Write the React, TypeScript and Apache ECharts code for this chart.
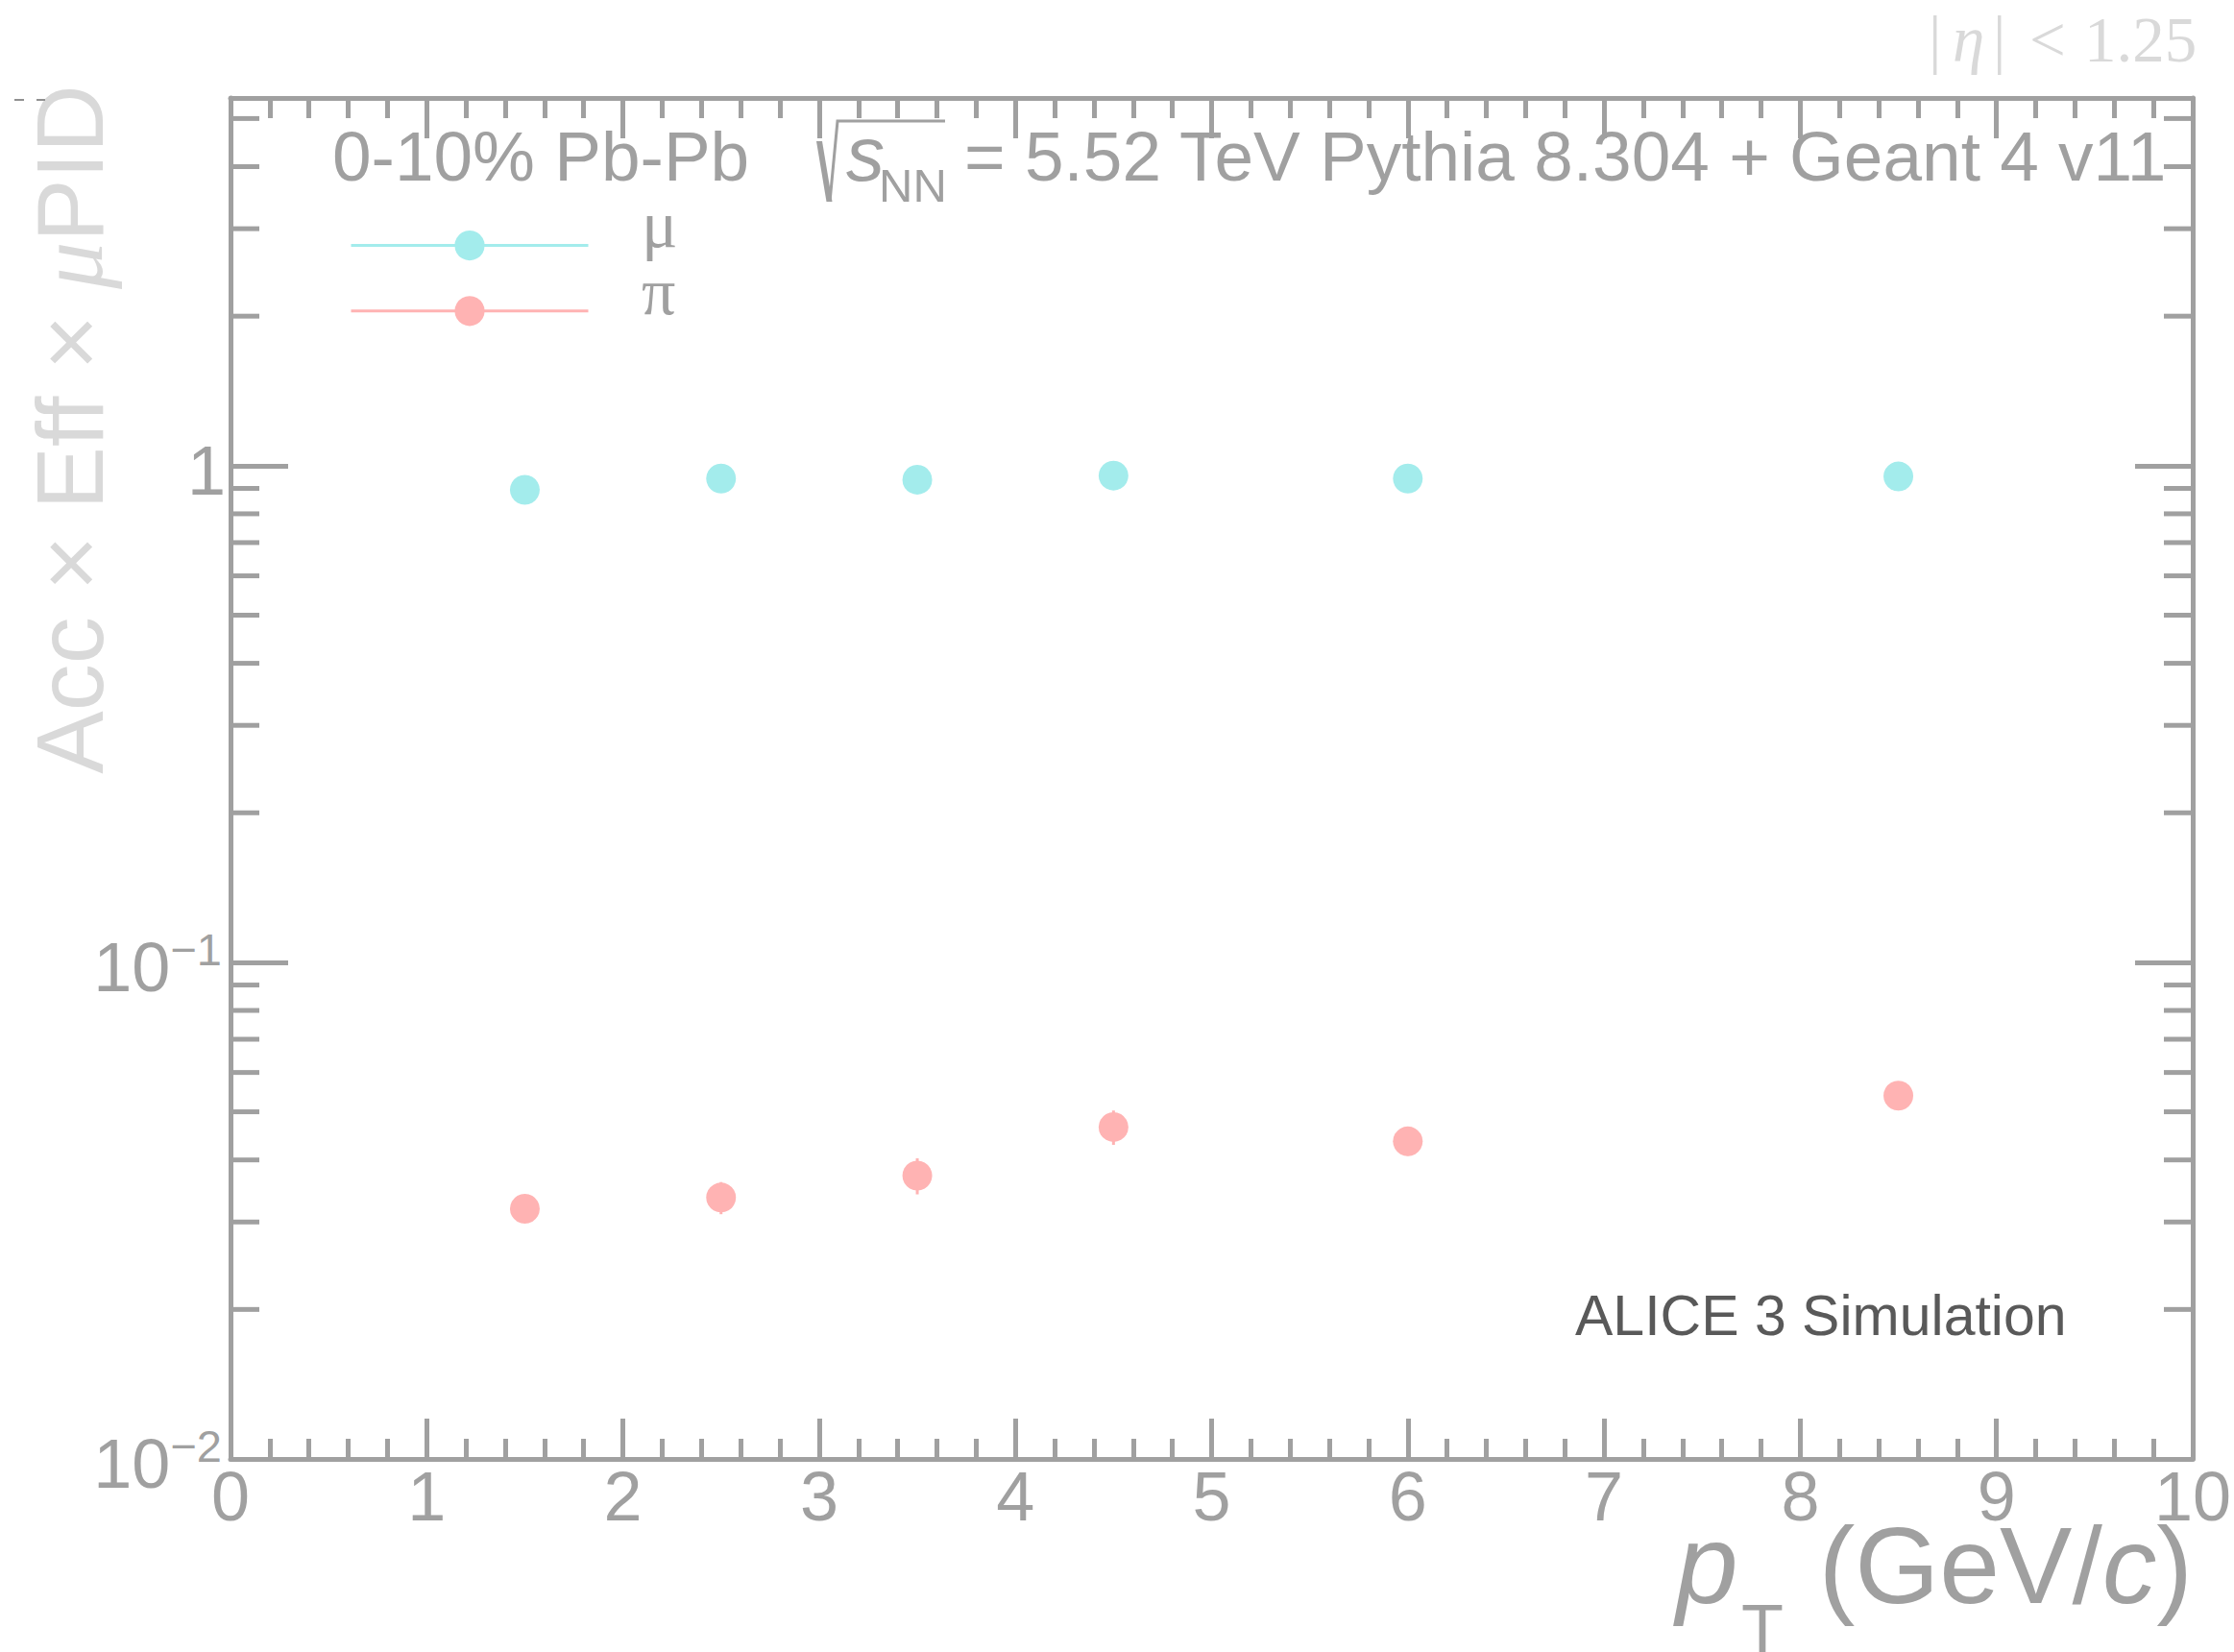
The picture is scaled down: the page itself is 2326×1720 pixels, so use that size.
import React, { useEffect, useRef } from 'react';
import * as echarts from 'echarts';

// ---- data ----
const pT = [1.5, 2.5, 3.5, 4.5, 6, 8.5];
const muEff = [0.894, 0.942, 0.937, 0.955, 0.942, 0.951];
const muErr = [0.010, 0.009, 0.009, 0.009, 0.009, 0.010];
const piEff = [0.0319, 0.0336, 0.0372, 0.0466, 0.0436, 0.0539];
const piErr = [0.0020, 0.0025, 0.0031, 0.0037, 0.0028, 0.0035];
const seriesNames = ['μ', 'π'];

const yMajorTicks = [0.01, 0.1, 1];
const yTickLabels = [['10', '−2'], ['10', '−1'], ['1', '']];
const yMinorTicks = [0.02, 0.03, 0.04, 0.05, 0.06, 0.07, 0.08, 0.09, 0.2, 0.3, 0.4, 0.5, 0.6, 0.7, 0.8, 0.9, 2, 3, 4, 5];

const headerLeft = '0-10% Pb-Pb';
const headerRight = '= 5.52 TeV Pythia 8.304 + Geant 4 v11';
const simLabel = 'ALICE 3 Simulation';

// ---- styles ----
const AX = '#a0a0a0';
const LIGHT = '#d9d9d9';
const LW = 5;
const FONT = 'Liberation Sans';
const SERIF = 'Liberation Serif';
const MU_COLOR = '#a3ecec';
const PI_COLOR = '#ffb3b3';

function yLabelFormatter(v: number): string {
  const i = yMajorTicks.findIndex((t) => Math.abs(Math.log10(v) - Math.log10(t)) < 1e-6);
  if (i < 0) return '';
  const [b, s] = yTickLabels[i];
  return s ? `{b|${b}}{s|${s}}` : `{b|${b}}`;
}

const errRender = (color: string) => (params: any, api: any) => {
  const x = api.value(0);
  const lo = api.coord([x, api.value(1)]);
  const hi = api.coord([x, api.value(2)]);
  return {
    type: 'line',
    shape: { x1: lo[0], y1: lo[1], x2: hi[0], y2: hi[1] },
    style: { stroke: color, lineWidth: 3 },
  };
};

const minorTickRender = (params: any, api: any) => {
  const y = api.coord([0, api.value(1)])[1];
  const cs = params.coordSys;
  const L = 30;
  return {
    type: 'group',
    children: [
      { type: 'line', shape: { x1: cs.x, y1: y, x2: cs.x + L, y2: y }, style: { stroke: AX, lineWidth: LW } },
      { type: 'line', shape: { x1: cs.x + cs.width - L, y1: y, x2: cs.x + cs.width, y2: y }, style: { stroke: AX, lineWidth: LW } },
    ],
  };
};

function buildOption(): any {
  const xAxisBase = {
    type: 'value',
    min: 0,
    max: 10,
    interval: 1,
    axisLine: { show: true, onZero: false, lineStyle: { color: AX, width: LW } },
    axisTick: { show: true, inside: true, length: 42, lineStyle: { color: AX, width: LW } },
    minorTick: { show: true, splitNumber: 5, length: 21, lineStyle: { color: AX, width: LW } },
    splitLine: { show: false },
    minorSplitLine: { show: false },
  };
  const yAxisBase = {
    type: 'log',
    logBase: 10,
    min: 0.01,
    max: 5.5,
    axisLine: { show: true, onZero: false, lineStyle: { color: AX, width: LW } },
    axisTick: { show: true, inside: true, length: 60, lineStyle: { color: AX, width: LW } },
    minorTick: { show: false },
    splitLine: { show: false },
  };

  const txt = (text: string, x: number, y: number, size: number, color: string, extra: any = {}) => ({
    type: 'text',
    x,
    y,
    silent: true,
    style: {
      text,
      fill: color,
      fontSize: size,
      fontFamily: FONT,
      align: 'left',
      verticalAlign: 'middle',
      ...extra,
    },
  });

  return {
    animation: false,
    backgroundColor: '#ffffff',
    textStyle: { fontFamily: FONT },
    grid: { left: 240, top: 102, right: 43, bottom: 201, containLabel: false, outerBoundsMode: 'none' },
    xAxis: [
      {
        ...xAxisBase,
        position: 'bottom',
        axisLabel: { show: true, margin: 3, fontSize: 72, fontFamily: FONT, color: AX },
      },
      { ...xAxisBase, position: 'top', axisLabel: { show: false } },
    ],
    yAxis: [
      {
        ...yAxisBase,
        position: 'left',
        axisLabel: {
          show: true,
          margin: 5,
          formatter: yLabelFormatter,
          rich: {
            b: { fontSize: 72, fontFamily: FONT, color: AX, padding: [10, 0, 0, 0] },
            s: { fontSize: 47, fontFamily: FONT, color: AX, verticalAlign: 'top', padding: [4, 4, 0, 0] },
          },
        },
      },
      { ...yAxisBase, position: 'right', axisLabel: { show: false } },
    ],
    legend: {
      data: seriesNames,
      orient: 'vertical',
      left: 364,
      top: 240,
      padding: 0,
      itemWidth: 247,
      itemHeight: 39,
      itemGap: 37,
      selectedMode: false,
      formatter: () => '',
      lineStyle: { width: 3, opacity: 1 },
      textStyle: { fontSize: 10, lineHeight: 10 },
    },
    series: [
      {
        type: 'custom',
        name: 'yMinorTicks',
        renderItem: minorTickRender,
        data: yMinorTicks.map((v) => [0, v]),
        encode: { x: 0, y: 1 },
        silent: true,
        clip: false,
        z: 5,
      },
      {
        type: 'custom',
        name: 'μ errors',
        renderItem: errRender(MU_COLOR),
        data: pT.map((x, i) => [x, muEff[i] - muErr[i], muEff[i] + muErr[i]]),
        encode: { x: 0, y: [1, 2] },
        silent: true,
        z: 2,
      },
      {
        type: 'custom',
        name: 'π errors',
        renderItem: errRender(PI_COLOR),
        data: pT.map((x, i) => [x, piEff[i] - piErr[i], piEff[i] + piErr[i]]),
        encode: { x: 0, y: [1, 2] },
        silent: true,
        z: 2,
      },
      {
        type: 'line',
        name: seriesNames[0],
        data: pT.map((x, i) => [x, muEff[i]]),
        symbol: 'circle',
        symbolSize: 31,
        showSymbol: true,
        lineStyle: { width: 0, opacity: 0, color: MU_COLOR },
        itemStyle: { color: MU_COLOR },
        z: 3,
      },
      {
        type: 'line',
        name: seriesNames[1],
        data: pT.map((x, i) => [x, piEff[i]]),
        symbol: 'circle',
        symbolSize: 31,
        showSymbol: true,
        lineStyle: { width: 0, opacity: 0, color: PI_COLOR },
        itemStyle: { color: PI_COLOR },
        z: 3,
      },
    ],
    graphic: {
      elements: [
        // y-axis title
        {
          type: 'text',
          x: 73,
          y: 447,
          rotation: Math.PI / 2,
          silent: true,
          style: {
            text: '{a|Acc × Eff × }{m|μ}{a|PID}',
            align: 'center',
            verticalAlign: 'middle',
            rich: {
              a: { fontSize: 98, fontFamily: FONT, fill: LIGHT, color: LIGHT },
              m: { fontSize: 98, fontFamily: SERIF, fontStyle: 'italic', fill: LIGHT, color: LIGHT },
            },
          },
        },
        // small dashes top-left
        { type: 'line', silent: true, shape: { x1: 15, y1: 104, x2: 25, y2: 104 }, style: { stroke: '#909090', lineWidth: 2 } },
        { type: 'line', silent: true, shape: { x1: 38, y1: 104, x2: 47, y2: 104 }, style: { stroke: '#909090', lineWidth: 2 } },
        // legend texts
        txt(seriesNames[0], 668, 233.4, 70, AX, { fontFamily: SERIF }),
        txt(seriesNames[1], 668, 303.4, 70, AX, { fontFamily: SERIF }),
        // header
        txt(headerLeft, 346, 162.2, 73, AX),
        { type: 'polygon', silent: true, shape: { points: [[850, 147], [856, 147], [866.5, 210], [860.5, 210]] }, style: { fill: AX } },
        { type: 'polyline', silent: true, shape: { points: [[864, 210], [872, 126], [984, 126]] }, style: { stroke: AX, lineWidth: 3, fill: null } },
        txt('s', 881, 160.6, 80, AX, { fontStyle: 'italic' }),
        txt('NN', 915, 193, 49, AX),
        txt(headerRight, 1004, 162.2, 73, AX),
        // eta label
        txt('|', 2008, 40.7, 67, LIGHT, { fontFamily: SERIF }),
        txt('η', 2033, 40.7, 67, LIGHT, { fontFamily: SERIF, fontStyle: 'italic' }),
        txt('|', 2075, 40.7, 67, LIGHT, { fontFamily: SERIF }),
        txt('<', 2113, 40.7, 67, LIGHT, { fontFamily: SERIF }),
        txt('1.25', 2170, 40.7, 67, LIGHT, { fontFamily: SERIF }),
        // simulation label
        txt(simLabel, 1640, 1369.5, 59, '#595959'),
        // x-axis title
        txt('p', 1745, 1628.8, 116, AX, { fontStyle: 'italic' }),
        txt('T', 1813, 1696, 72, AX),
        {
          type: 'text',
          x: 2283,
          y: 1629.5,
          silent: true,
          style: {
            text: '{a|(GeV/}{c|c}{a|)}',
            align: 'right',
            verticalAlign: 'middle',
            rich: {
              a: { fontSize: 113, fontFamily: FONT, fill: AX, color: AX },
              c: { fontSize: 113, fontFamily: FONT, fontStyle: 'italic', fill: AX, color: AX },
            },
          },
        },
      ],
    },
  };
}

export default function App() {
  const ref = useRef<HTMLDivElement>(null);
  useEffect(() => {
    document.body.style.margin = '0';
    document.body.style.overflow = 'hidden';
    if (!ref.current) return;
    const chart = echarts.init(ref.current, undefined, { renderer: 'svg' });
    chart.setOption(buildOption());
    return () => {
      chart.dispose();
    };
  }, []);
  return <div ref={ref} style={{ width: '2326px', height: '1720px', background: '#ffffff' }} />;
}
